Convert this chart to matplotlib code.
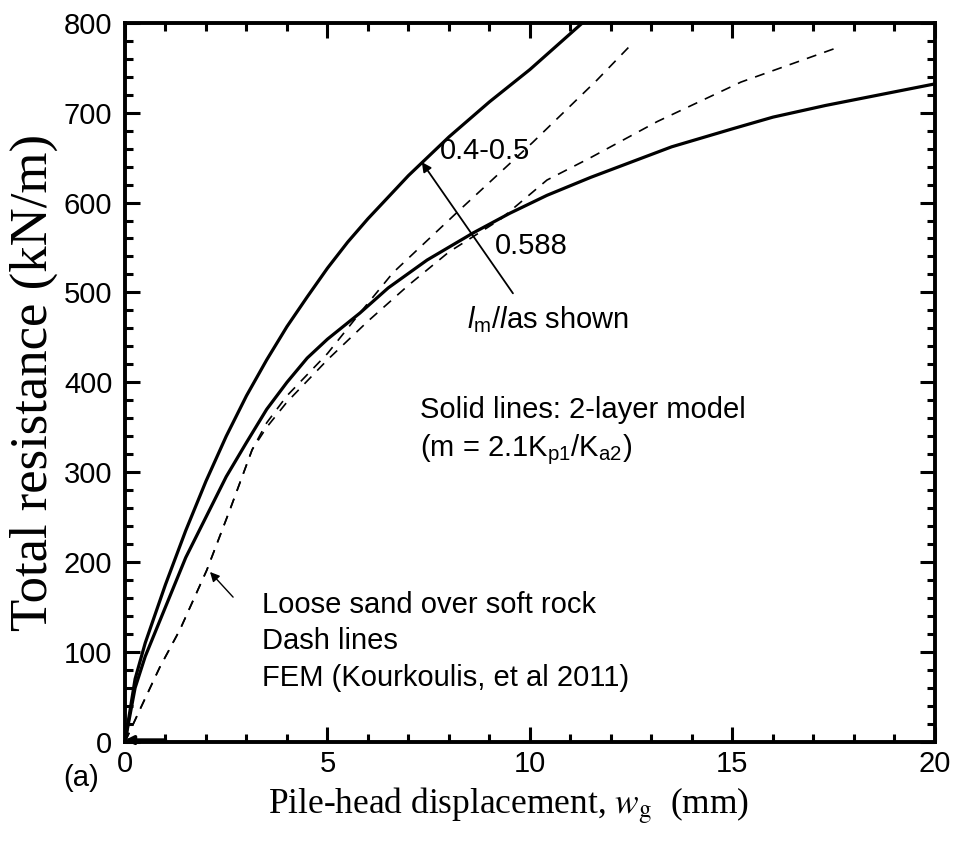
import matplotlib
matplotlib.use("Agg")
import matplotlib.pyplot as plt
from matplotlib.ticker import MultipleLocator

# Two-layer model, upper bound (l_m/l = 0.4-0.5)
model_hi_w = [0, 0.25, 0.5, 1, 1.5, 2, 2.5, 3, 3.5, 4, 4.5, 5, 5.5, 6, 7, 8, 9, 10, 11.3]
model_hi_p = [0, 70, 110, 175, 235, 290, 340, 385, 425, 462, 495, 527, 556, 582, 630, 673, 712, 748, 800]

# Two-layer model, l_m/l = 0.588
model_lo_w = [0, 0.25, 0.5, 1, 1.5, 2, 2.5, 3, 3.5, 4, 4.5, 5, 5.8, 6.5, 7.46, 8.59,
              9.5, 10.42, 11.5, 12.5, 13.5, 15, 16, 17.3, 20]
model_lo_p = [0, 60, 95, 150, 205, 250, 295, 333, 370, 400, 427, 448, 477, 505, 536, 566,
              588, 608, 628, 645, 662, 682, 695, 708, 732]

# FEM results (Kourkoulis et al. 2011), two cases
fem_a_w = [0, 0.37, 0.86, 1.36, 2.02, 2.59, 3.14, 3.5, 4, 5, 5.8, 6.62, 8.27, 10.07, 11.65, 12.55]
fem_a_p = [0, 36, 83, 125, 191, 258, 325, 355, 385, 432, 477, 522, 592, 667, 736, 778]

fem_b_w = [0, 0.37, 0.86, 1.36, 2.02, 2.59, 3.14, 3.5, 4, 5, 6, 7, 8, 9.26, 10.42, 11.5,
           13.14, 15.21, 17.63]
fem_b_p = [0, 36, 83, 125, 191, 258, 325, 350, 378, 425, 468, 508, 545, 581, 625, 650,
           690, 734, 773]

x_ticks = [0, 5, 10, 15, 20]
y_ticks = [0, 100, 200, 300, 400, 500, 600, 700, 800]

sans = "Liberation Sans"
serif = "Liberation Serif"
fs = 21

plt.rcParams["mathtext.fontset"] = "custom"
plt.rcParams["mathtext.rm"] = sans
plt.rcParams["mathtext.it"] = sans + ":italic"
plt.rcParams["mathtext.bf"] = sans + ":bold"

fig = plt.figure(figsize=(9.54, 8.43), dpi=100)
ax = fig.add_axes([0.131, 0.120, 0.849, 0.853])

ax.plot(model_hi_w, model_hi_p, color="black", lw=2.3, solid_joinstyle="round")
ax.plot(model_lo_w, model_lo_p, color="black", lw=2.3, solid_joinstyle="round")
ax.plot(fem_a_w, fem_a_p, color="black", lw=1.2, dashes=(6, 5))
ax.plot(fem_b_w, fem_b_p, color="black", lw=1.2, dashes=(6, 5))

ax.set_xlim(0, 20)
ax.set_ylim(0, 800)
ax.set_xticks(x_ticks)
ax.set_yticks(y_ticks)
ax.xaxis.set_minor_locator(MultipleLocator(1))
ax.yaxis.set_minor_locator(MultipleLocator(20))
ax.tick_params(which="both", direction="in", top=True, right=True,
               width=2.2, labelsize=fs, pad=9)
ax.tick_params(axis="x", which="major", pad=6)
ax.tick_params(which="major", length=11)
ax.tick_params(which="minor", length=6)
for lab in ax.get_xticklabels() + ax.get_yticklabels():
    lab.set_fontfamily(sans)
for sp in ax.spines.values():
    sp.set_linewidth(2.8)

ax.set_xlabel(r"Pile-head displacement, $\mathit{w}_{\rm g}$  (mm)",
              fontfamily=serif, fontsize=25.5, math_fontfamily="stix")
ax.xaxis.set_label_coords(0.474, -0.1)
ax.xaxis.label.set_va("baseline")
ax.set_ylabel("Total resistance (kN/m)", fontfamily=serif, fontsize=38)
ax.yaxis.set_label_coords(-0.113, 0.5)
ax.yaxis.label.set_va("center")

# Curve labels and the l_m/l arrow
ax.text(7.78, 657, "0.4-0.5", fontfamily=sans, fontsize=fs, va="center", ha="left")
ax.text(9.14, 552, "0.588", fontfamily=sans, fontsize=fs, va="center", ha="left")
ax.text(8.45, 470, r"$\mathbf{\mathit{l}}_{\rm m}/\mathbf{\mathit{l}}$as shown",
        fontfamily=sans, fontsize=fs, va="center", ha="left")
ax.annotate("", xy=(7.33, 645), xytext=(9.58, 499),
            arrowprops=dict(arrowstyle="-|>", color="black", lw=1.3,
                            mutation_scale=14, shrinkA=0, shrinkB=0))

ax.text(7.28, 369, "Solid lines: 2-layer model", fontfamily=sans, fontsize=fs,
        va="center", ha="left")
ax.text(7.28, 325, r"(m = 2.1K$_{\rm p1}$/K$_{\rm a2}$)", fontfamily=sans,
        fontsize=fs, va="center", ha="left")

ax.text(3.38, 152, "Loose sand over soft rock", fontfamily=sans, fontsize=fs,
        va="center", ha="left")
ax.text(3.38, 112, "Dash lines", fontfamily=sans, fontsize=fs, va="center", ha="left")
ax.text(3.38, 71, "FEM (Kourkoulis, et al 2011)", fontfamily=sans, fontsize=fs,
        va="center", ha="left")
ax.annotate("", xy=(2.10, 189), xytext=(2.67, 161),
            arrowprops=dict(arrowstyle="-|>", color="black", lw=1.0,
                            mutation_scale=14, shrinkA=0, shrinkB=0))
ax.annotate("", xy=(0.0, 2), xytext=(1.0, 2),
            arrowprops=dict(arrowstyle="-|>", color="black", lw=2.5,
                            mutation_scale=12, shrinkA=0, shrinkB=0),
            annotation_clip=False)

fig.text(0.066, 0.077, "(a)", fontfamily=sans, fontsize=fs, ha="left", va="center")

fig.savefig("out.png", dpi=100)
